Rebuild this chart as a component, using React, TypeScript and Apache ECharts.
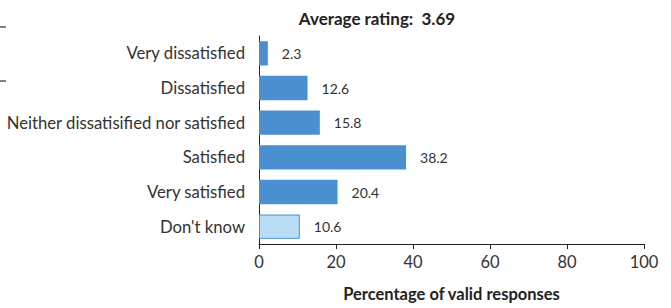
import React, { useEffect, useRef } from "react";
import * as echarts from "echarts";

const categories = ["Very dissatisfied", "Dissatisfied", "Neither dissatisified nor satisfied", "Satisfied", "Very satisfied", "Don't know"];
const values = [2.3, 12.6, 15.8, 38.2, 20.4, 10.6];
const titleText = "Average rating:  3.69";
const axisName = "Percentage of valid responses";

export default function App() {
  const ref = useRef<HTMLDivElement>(null);
  useEffect(() => {
    const chart = echarts.init(ref.current!, null, { renderer: "svg" });
    const font = "Lato, sans-serif";
    chart.setOption({
      animation: false,
      textStyle: { fontFamily: font },
      title: {
        text: titleText,
        left: 372,
        top: 5,
        textAlign: "center",
        textStyle: { fontSize: 17, fontWeight: "bold", color: "#222", fontFamily: font },
      },
      grid: { left: 259, right: 27, top: 36, bottom: 64, containLabel: false },
      xAxis: {
        type: "value",
        min: 0,
        max: 100,
        interval: 20,
        name: axisName,
        nameLocation: "middle",
        nameGap: 41,
        nameTextStyle: { fontSize: 16.5, fontWeight: "bold", color: "#222" },
        axisLine: { show: true, lineStyle: { color: "#222", width: 1 } },
        axisTick: { show: true, length: 5, lineStyle: { color: "#222" } },
        axisLabel: { fontSize: 16.5, color: "#333", margin: 9 },
        splitLine: { show: false },
      },
      yAxis: {
        type: "category",
        data: categories,
        inverse: true,
        axisLine: { show: true, lineStyle: { color: "#222", width: 1 } },
        axisTick: { show: false },
        axisLabel: { fontSize: 16.7, color: "#333", margin: 14 },
      },
      series: [
        {
          type: "bar",
          barCategoryGap: "30%",
          data: values.map((v, i) => ({
            value: v,
            itemStyle:
              i === values.length - 1
                ? { color: "#b8ddf5", borderColor: "#4a8fd0", borderWidth: 1 }
                : { color: "#4a8fd0" },
          })),
          label: {
            show: true,
            position: "right",
            distance: 14,
            fontSize: 14,
            color: "#333",
            formatter: (p: any) => p.value.toFixed(1),
          },
        },
      ],
      graphic: [
        { type: "line", shape: { x1: 0, y1: 27, x2: 6, y2: 27 }, style: { stroke: "#000", lineWidth: 1 } },
        { type: "line", shape: { x1: 0, y1: 81, x2: 6, y2: 81 }, style: { stroke: "#000", lineWidth: 1 } },
      ],
    });
    return () => chart.dispose();
  }, []);
  return <div ref={ref} style={{ width: 671, height: 308, position: "absolute", left: 0, top: 0 }} />;
}
